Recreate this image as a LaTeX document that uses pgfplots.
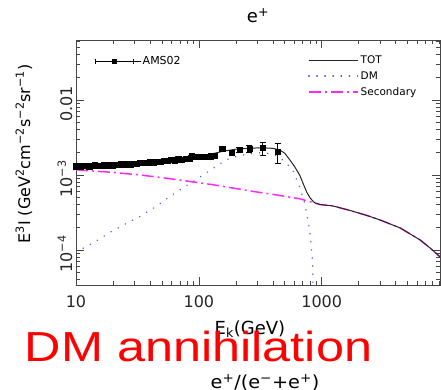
\documentclass[border=0pt]{standalone}
\usepackage{pgfplots}
\pgfplotsset{compat=1.18}
\usepackage{fontspec}
\setmainfont{DejaVu Sans}
\newfontfamily\arialfont{Liberation Sans}
\definecolor{dmblue}{RGB}{85,90,255}
\definecolor{secmag}{RGB}{255,40,255}
\definecolor{axgray}{RGB}{70,70,70}

\pgfplotstableread{
E F err
10.0 1.31e-3 0.02e-3
10.5 1.33e-3 0.02e-3
11.0 1.30e-3 0.02e-3
11.6 1.32e-3 0.02e-3
12.2 1.34e-3 0.02e-3
12.8 1.31e-3 0.02e-3
13.5 1.33e-3 0.02e-3
14.2 1.35e-3 0.02e-3
15.0 1.33e-3 0.02e-3
15.8 1.34e-3 0.02e-3
16.7 1.36e-3 0.02e-3
17.6 1.34e-3 0.02e-3
18.6 1.36e-3 0.02e-3
19.7 1.35e-3 0.02e-3
20.8 1.37e-3 0.02e-3
22.0 1.36e-3 0.02e-3
23.3 1.39e-3 0.02e-3
24.7 1.38e-3 0.02e-3
26.2 1.40e-3 0.02e-3
27.8 1.39e-3 0.02e-3
29.5 1.42e-3 0.02e-3
31.3 1.41e-3 0.02e-3
33.3 1.44e-3 0.02e-3
35.4 1.45e-3 0.02e-3
37.7 1.44e-3 0.02e-3
40.2 1.48e-3 0.03e-3
42.8 1.47e-3 0.03e-3
45.6 1.51e-3 0.03e-3
48.6 1.50e-3 0.03e-3
51.9 1.55e-3 0.03e-3
55.4 1.53e-3 0.03e-3
59.2 1.58e-3 0.03e-3
63.3 1.57e-3 0.03e-3
67.8 1.62e-3 0.04e-3
72.6 1.60e-3 0.04e-3
77.8 1.65e-3 0.04e-3
83.5 1.66e-3 0.04e-3
87.0 1.78e-3 0.05e-3
93.0 1.76e-3 0.05e-3
100 1.74e-3 0.05e-3
108 1.77e-3 0.06e-3
116 1.75e-3 0.06e-3
125 1.78e-3 0.07e-3
135 1.80e-3 0.08e-3
155 2.25e-3 0.10e-3
185 2.00e-3 0.12e-3
214 2.15e-3 0.15e-3
258 2.22e-3 0.22e-3
330 2.29e-3 0.45e-3
437 2.03e-3 0.60e-3
}\amsdata

\pgfplotstableread{
E F
10 1.27e-3
15 1.30e-3
20 1.33e-3
30 1.39e-3
40 1.45e-3
60 1.55e-3
80 1.65e-3
100 1.75e-3
130 1.92e-3
160 2.08e-3
200 2.20e-3
258 2.27e-3
330 2.30e-3
400 2.26e-3
454 2.15e-3
500 1.95e-3
548 1.60e-3
600 1.30e-3
661 1.00e-3
710 7.5e-4
755 5.9e-4
800 5.0e-4
840 4.55e-4
878 4.24e-4
964 4.03e-4
1231 3.86e-4
1694 3.36e-4
2330 2.88e-4
2972 2.51e-4
4330 1.97e-4
6310 1.36e-4
7620 1.06e-4
9180 8.07e-5
}\totdata

\pgfplotstableread{
E F
10 9.4e-5
14 1.25e-4
18.6 1.69e-4
25 2.2e-4
32.7 2.75e-4
45 3.8e-4
57.4 5.09e-4
75 6.8e-4
100 9.12e-4
130 1.22e-3
167 1.585e-3
210 1.80e-3
258 1.905e-3
310 1.97e-3
356 1.96e-3
420 1.82e-3
481 1.585e-3
580 1.17e-3
661 6.9e-4
726 4.23e-4
798 1.85e-4
845 6.7e-5
862 1e-6
}\dmdata

\pgfplotstableread{
E F
10 1.17e-3
11.6 1.15e-3
20 1.08e-3
32.7 1.0e-3
50 9.2e-4
88 8.1e-4
130 7.4e-4
187 6.7e-4
280 6.0e-4
428 5.4e-4
661 4.8e-4
878 4.24e-4
964 4.03e-4
1231 3.86e-4
1694 3.36e-4
2330 2.88e-4
2972 2.51e-4
4330 1.97e-4
6310 1.36e-4
7620 1.06e-4
9180 8.07e-5
}\secdata

\begin{document}
\begin{tikzpicture}
\path[use as bounding box] (0,0) rectangle (441pt,390pt);
\begin{axis}[
  scale only axis, width=364pt, height=245pt,
  at={(76pt,105pt)}, anchor=south west,
  xmode=log, ymode=log, xmin=10, xmax=9180, ymin=3.4e-5, ymax=0.063,
  axis line style={axgray, line width=0.9pt},
  tick style={axgray, line width=0.6pt},
  major tick length=8pt, minor tick length=4pt,
  xtick={10,100,1000}, xticklabels={10,100,1000},
  minor xtick={20,30,40,50,60,70,80,90,200,300,400,500,600,700,800,900,2000,3000,4000,5000,6000,7000,8000,9000},
  ytick={1e-4,1e-3,1e-2}, yticklabels={10\textsuperscript{−4},10\textsuperscript{−3},0.01},
  minor ytick={4e-5,5e-5,6e-5,7e-5,8e-5,9e-5,2e-4,3e-4,4e-4,5e-4,6e-4,7e-4,8e-4,9e-4,2e-3,3e-3,4e-3,5e-3,6e-3,7e-3,8e-3,9e-3,2e-2,3e-2,4e-2,5e-2,6e-2},
  ticklabel style={font=\fontsize{16}{18}\selectfont, text=black!85},
  yticklabel style={rotate=90, anchor=south, xshift=-4pt},
  xticklabel style={yshift=-7pt},
  title={e\textsuperscript{+}},
  title style={font=\fontsize{18}{20}\selectfont, at={(axis description cs:0.5,1.045)}, anchor=base},
  xlabel={E\textsubscript{k}(GeV)},
  xlabel style={font=\fontsize{18}{20}\selectfont, at={(axis description cs:0.478,-0.13)}, anchor=north},
  ylabel={E\textsuperscript{3}I (GeV\textsuperscript{2}cm\textsuperscript{−2}s\textsuperscript{−2}sr\textsuperscript{−1})},
  ylabel style={font=\fontsize{16}{18}\selectfont, at={(axis description cs:-0.143,0.535)}, anchor=center},
  legend style={at={(axis description cs:0.637,0.945)}, anchor=north west, draw=none, fill=none,
    font=\fontsize{10.5}{12}\selectfont, row sep=2.5pt, inner sep=0pt, nodes={inner sep=2pt}},
  legend cell align=left,
  legend image code/.code={\draw[#1] (0pt,0pt) -- (42pt,0pt); \path (0pt,0pt) -- (49pt,0pt);},
]
\addplot[secmag, line width=1.5pt, dash pattern=on 12pt off 4pt on 2pt off 4pt, forget plot] table[x=E,y=F] {\secdata};
\addplot[black!85, line width=1pt] table[x=E,y=F] {\totdata};
\addlegendentry{TOT}
\addplot[dmblue, line width=1.6pt, line cap=round, dash pattern=on 0.1pt off 8pt] table[x=E,y=F] {\dmdata};
\addlegendentry{DM}
\addlegendimage{color=secmag, draw=secmag, line width=1.5pt, dash pattern=on 12pt off 4pt on 2pt off 4pt}
\addlegendentry{Secondary}
\end{axis}
\begin{axis}[
  scale only axis, width=364pt, height=245pt,
  at={(76pt,105pt)}, anchor=south west,
  xmode=log, ymode=log, xmin=10, xmax=9180, ymin=3.4e-5, ymax=0.063,
  hide axis,
  legend style={at={(axis description cs:0.052,0.914)}, anchor=west, draw=none, fill=none,
    font=\fontsize{11}{12}\selectfont, inner sep=0pt, nodes={inner sep=2pt}},
  legend image code/.code={
    \draw[black, line width=0.8pt] (0pt,0pt) -- (38pt,0pt);
    \draw[black, line width=0.8pt] (0pt,-2.5pt) -- (0pt,2.5pt);
    \draw[black, line width=0.8pt] (38pt,-2.5pt) -- (38pt,2.5pt);
    \fill[black] (17pt,-2pt) rectangle (21pt,2pt);
    \path (0pt,0pt) -- (45pt,0pt);},
]
\addplot[black, only marks, mark=square*, mark size=2.6pt,
  error bars/.cd, y dir=both, y explicit,
  error bar style={black, line width=0.8pt},
  error mark options={rotate=90, mark size=3pt, black, line width=0.8pt}]
  table[x=E, y=F, y error=err] {\amsdata};
\addlegendentry{AMS02}
\end{axis}
\node[anchor=base, text=red, font=\arialfont\fontsize{42}{42}\selectfont] at (198.5pt,28pt) {\scalebox{1.2}[1]{DM annihilation}};
\node[anchor=base, font=\fontsize{18}{20}\selectfont] at (265pt,1pt) {\scalebox{1.07}[1]{e\textsuperscript{+}/(e\textsuperscript{−}+e\textsuperscript{+})}};
\end{tikzpicture}
\end{document}
